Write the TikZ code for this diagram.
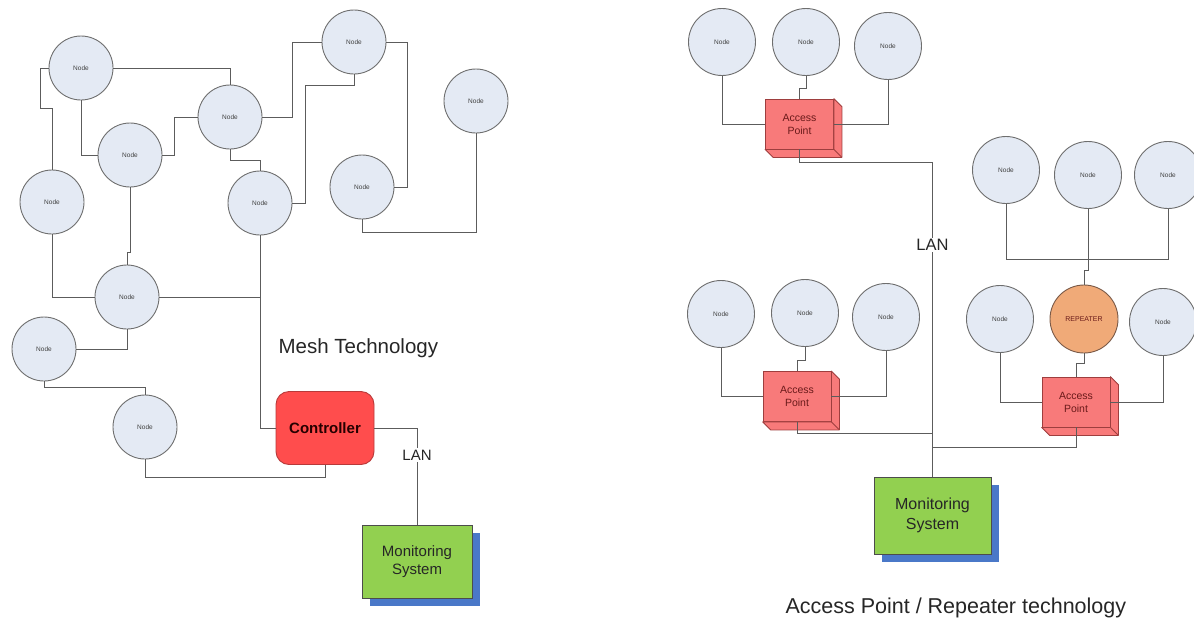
\documentclass[tikz,border=0pt]{standalone}
\usepackage{fontspec}
\setmainfont{Liberation Sans}
\usetikzlibrary{positioning, shadows}

\definecolor{nodefill}{HTML}{E4EAF4}
\definecolor{nodeline}{HTML}{6E6E6E}
\definecolor{wirecol}{HTML}{5C5C5C}
\definecolor{ctrlred}{HTML}{FF4D4D}
\definecolor{ctrlline}{HTML}{B83A3A}
\definecolor{apred}{HTML}{F87A7A}
\definecolor{apline}{HTML}{9E3E3E}
\definecolor{aptext}{HTML}{6A1A1A}
\definecolor{repfill}{HTML}{F0AA78}
\definecolor{repline}{HTML}{7A5A48}
\definecolor{mongreen}{HTML}{92D050}
\definecolor{monblue}{HTML}{4A78C8}

\tikzset{
  nodecirc/.style={circle, draw=nodeline, fill=nodefill, line width=0.9pt, minimum size=64pt, inner sep=0pt, font=\fontsize{6.5}{7}\selectfont, text=black!75},
  bignodecirc/.style={nodecirc, minimum size=67pt},
  repcirc/.style={nodecirc, fill=repfill, draw=repline, minimum size=68pt, font=\fontsize{7}{8}\selectfont, text=aptext},
  ctrlbox/.style={rectangle, rounded corners=13pt, draw=ctrlline, fill=ctrlred, line width=0.9pt, minimum width=98pt, minimum height=73pt, font=\fontsize{15}{18}\selectfont\bfseries, text=black!85!red},
  apbox/.style={rectangle, draw=apline, fill=apred, line width=0.8pt, minimum width=68pt, minimum height=50pt, align=center, font=\fontsize{10.5}{13}\selectfont, text=aptext, inner sep=0pt},
  apface/.style={draw=apline, fill=apred, line width=0.8pt, line join=round},
  monbox/.style={rectangle, draw=black!70, fill=mongreen, line width=0.8pt, align=center, text=black!85, inner sep=0pt, drop shadow={shadow xshift=8pt, shadow yshift=-8pt, fill=monblue, opacity=1}},
  wire/.style={draw=wirecol, line width=0.8pt},
  lanlbl/.style={fill=white, inner sep=1.5pt, text=black!85},
  titlelbl/.style={text=black!85}
}

\begin{document}
\begin{tikzpicture}[x=1pt,y=-1pt]
\useasboundingbox (0,0) rectangle (1194,619);

% mesh side
\node[nodecirc] (n1) at (81,68) {Node};
\node[nodecirc] (n2) at (230,117) {Node};
\node[nodecirc] (n3) at (130,155) {Node};
\node[nodecirc] (n4) at (52,202) {Node};
\node[nodecirc] (n5) at (260,203) {Node};
\node[nodecirc] (n6) at (354,42) {Node};
\node[nodecirc] (n7) at (362,187) {Node};
\node[nodecirc] (n8) at (476,101) {Node};
\node[nodecirc] (n9) at (127,297) {Node};
\node[nodecirc] (n10) at (44,349) {Node};
\node[nodecirc] (n11) at (145,427) {Node};
\node[ctrlbox] (ctrl) at (325,428) {Controller};
\node[monbox, minimum width=110pt, minimum height=73pt, font=\fontsize{15}{18}\selectfont] (monL) at (417,561.5) {Monitoring\\System};
\node[titlelbl, anchor=base west, font=\fontsize{20.5}{24}\selectfont] (meshlbl) at (275,353) {Mesh Technology};

\draw[wire] (n1.east) -| (n2.north);
\draw[wire] (n1.west) -- ++(-8,0) -- ++(0,40) -| (n4.north);
\draw[wire] (n1.south) |- (n3.west);
\draw[wire] (n3.east) -- ++(12,0) |- (n2.west);
\draw[wire] (n2.east) -- ++(30,0) |- (n6.west);
\draw[wire] (n2.south) -- ++(0,11) -| (n5.north);
\draw[wire] (n5.east) -- ++(13,0) -- ++(0,-118) -| (n6.south);
\draw[wire] (n6.east) -- ++(21,0) |- (n7.east);
\draw[wire] (n7.south) -- ++(0,13) -| (n8.south);
\draw[wire] (n5.south) |- (ctrl.west);
\draw[wire] (n9.east) -- (n9.east -| n5.south);
\draw[wire] (n3.south) -- ++(0,65) -| (n9.north);
\draw[wire] (n4.south) |- (n9.west);
\draw[wire] (n9.south) |- (n10.east);
\draw[wire] (n10.south) -- ++(0,6) -| (n11.north);
\draw[wire] (n11.south) -- ++(0,18) -| (ctrl.south);
\draw[wire] (ctrl.east) -| (monL.north);
\node[lanlbl, font=\fontsize{15}{18}\selectfont] (lanL) at (417,455) {LAN};

% access point / repeater side
\node[bignodecirc] (a1) at (722,42) {Node};
\node[bignodecirc] (a2) at (806,42) {Node};
\node[bignodecirc] (a3) at (888,46) {Node};
\node[apbox] (ap1) at (799.5,124) {Access\\Point};

\node[bignodecirc] (b1) at (721,314) {Node};
\node[bignodecirc] (b2) at (805,313) {Node};
\node[bignodecirc] (b3) at (886,317) {Node};
\node[apbox] (ap2) at (797,396.5) {Access\\Point};

\node[bignodecirc] (c1) at (1006,170) {Node};
\node[bignodecirc] (c2) at (1088,175) {Node};
\node[bignodecirc] (c3) at (1168,175) {Node};
\node[repcirc] (rep) at (1084,319) {REPEATER};
\node[bignodecirc] (c4) at (1000,319) {Node};
\node[bignodecirc] (c5) at (1163,322) {Node};
\node[apbox] (ap3) at (1076,402) {Access\\Point};

\node[monbox, minimum width=117pt, minimum height=77pt, font=\fontsize{16}{19.5}\selectfont] (monR) at (932.5,515.5) {Monitoring\\System};
\node[titlelbl, anchor=base west, font=\fontsize{21.5}{25}\selectfont] (aplbl) at (782,613) {Access Point / Repeater technology};

\foreach \ap in {ap1,ap2,ap3} {
  \filldraw[apface] (\ap.north east) -- ([shift={(8,8)}]\ap.north east) -- ([shift={(8,8)}]\ap.south east) -- ([shift={(8,8)}]\ap.south west) -- (\ap.south west) -- (\ap.south east) -- cycle;
  \draw[apface] (\ap.south east) -- ++(8,8);
}

\coordinate (jA) at (932.5,433);
\coordinate (jB) at (932.5,447);

\draw[wire] (a1.south) |- (ap1.west);
\draw[wire] (a2.south) -- ++(0,12) -| (ap1.north);
\draw[wire] (a3.south) |- (ap1.east);
\draw[wire] (ap1.south) -- ++(0,13) -| (monR.north);

\draw[wire] (b1.south) |- (ap2.west);
\draw[wire] (b2.south) -- ++(0,13) -| (ap2.north);
\draw[wire] (b3.south) |- (ap2.east);
\draw[wire] (ap2.south) |- (jA);

\draw[wire] (c1.south) -- ++(0,55) -| (c3.south);
\draw[wire] (c2.south) -- ++(0,61.5) -| (rep.north);
\draw[wire] (rep.south) -- ++(0,10) -| (ap3.north);
\draw[wire] (c4.south) |- (ap3.west);
\draw[wire] (c5.south) |- (ap3.east);
\draw[wire] (ap3.south) |- (jB);
\node[lanlbl, font=\fontsize{16.5}{19}\selectfont] (lanR) at (932.5,245) {LAN};
\end{tikzpicture}
\end{document}
